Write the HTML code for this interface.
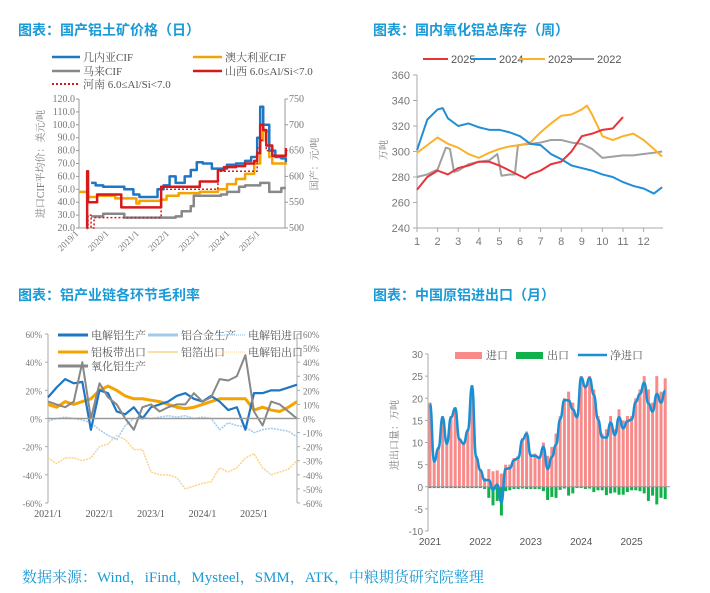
<!DOCTYPE html>
<html><head><meta charset="utf-8">
<style>
body{margin:0;width:710px;height:593px;background:#fff;overflow:hidden;font-family:"Liberation Serif","Noto Serif CJK SC",serif;}
.t{position:absolute;color:#1a9ad6;font-weight:bold;font-size:14px;font-family:"Liberation Sans","Noto Sans CJK SC",sans-serif;}
svg{position:absolute;left:0;top:0}
.sans{font-family:"Liberation Sans","Noto Sans CJK SC",sans-serif;}
</style></head><body>
<div class="t" style="left:18px;top:20px">图表：国产铝土矿价格（日）</div>
<div class="t" style="left:373px;top:20px">图表：国内氧化铝总库存（周）</div>
<div class="t" style="left:18px;top:285px">图表：铝产业链各环节毛利率</div>
<div class="t" style="left:373px;top:285px">图表：中国原铝进出口（月）</div>
<div class="t" style="left:22px;top:566px;font-weight:normal;font-size:15px;font-family:'Liberation Serif','Noto Serif CJK SC',serif">数据来源：Wind，iFind，Mysteel，SMM，ATK，中粮期货研究院整理</div>
<svg id="s" width="710" height="593" xmlns="http://www.w3.org/2000/svg"></svg>
<script>
// ---------- Panel 1 data ----------
const p1GuineaT=[2019.4,2019.55,2019.8,2020.2,2020.5,2020.8,2021.0,2021.4,2021.6,2021.8,2022.0,2022.2,2022.5,2022.7,2022.9,2023.1,2023.4,2023.6,2023.9,2024.2,2024.5,2024.7,2024.9,2025.0,2025.1,2025.3,2025.5,2025.7,2025.85];
const p1GuineaV=[55,53,52,52,50,46,44,44,50,53,60,55,60,65,71,70,66,66,69,70,72,75,90,114,100,80,75,74,71];
const p1AusT=[2019.0,2019.3,2019.6,2020.2,2020.9,2021.0,2021.7,2021.9,2022.3,2023.0,2023.6,2023.9,2024.2,2024.5,2024.8,2025.0,2025.1,2025.3,2025.4,2025.85];
const p1AusV=[48,44,45,43,39,41,42,45,47,48,50,54,58,62,70,88,95,75,70,69];
const p1MalT=[2019.4,2019.8,2020.5,2021.0,2021.6,2022.2,2022.4,2022.7,2022.8,2023.7,2023.9,2024.3,2024.5,2025.0,2025.3,2025.7,2025.85];
const p1MalV=[29,31,28,28,28,29,33,37,45,46,48,52,53,55,48,51,51];
const p1SxT=[2019.25,2019.27,2019.3,2019.45,2019.6,2020.3,2020.4,2021.7,2021.72,2022.9,2023.0,2023.5,2023.6,2023.8,2024.2,2024.5,2024.8,2024.9,2025.0,2025.1,2025.2,2025.4,2025.7,2025.85];
const p1SxV=[500,610,550,550,565,565,540,540,580,580,590,590,612,618,620,625,630,645,700,690,660,640,640,655];
const p1HnT=[2019.25,2019.3,2019.4,2019.5,2019.6,2021.7,2021.72,2023.5,2023.6,2024.9,2025.0,2025.2,2025.4,2025.85];
const p1HnV=[500,525,500,520,520,520,575,575,610,655,670,650,640,650];
const p1LeftTicks=[120,110,100,90,80,70,60,50,40,30,20];
const p1RightTicks=[750,700,650,600,550,500];
const p1Years=["2019/1","2020/1","2021/1","2022/1","2023/1","2024/1","2025/1"];
// ---------- Panel 2 data ----------
const p2X25=[1,1.5,2,2.5,3,3.5,4,4.5,5,5.5,6,6.25,6.5,7,7.5,8,8.5,9,9.5,10,10.5,11];
const p2V25=[270,280,285,282,287,289,292,292,289,285,281,279,282,285,290,292,300,312,314,317,318,327];
const p2X24=[1,1.5,2,2.25,2.5,3,3.5,4,4.5,5,5.5,6,6.5,7,7.5,8,8.5,9,9.5,10,10.5,11,11.5,12,12.5,12.9];
const p2V24=[301,325,333,334,326,320,322,319,317,317,315,312,306,305,298,294,289,287,285,282,280,276,273,271,267,272];
const p2X23=[1,1.5,2,2.5,3,3.5,4,4.5,5,5.5,6,6.5,7,7.5,8,8.5,9,9.25,9.5,10,10.5,11,11.5,12,12.5,12.9];
const p2V23=[299,305,311,306,303,298,295,299,302,304,305,307,315,322,328,329,333,336,329,312,309,312,314,309,302,296];
const p2X22=[1,1.5,2,2.4,2.6,2.8,3,3.5,4,4.5,4.9,5.1,5.5,5.75,5.9,6.5,7,7.5,8,8.5,9,9.5,10,10.5,11,11.5,12,12.5,12.9];
const p2V22=[280,282,286,303,302,284,285,290,292,293,298,281,282,282,305,306,307,309,309,307,306,302,295,296,297,297,298,299,300];
const p2Ticks=[360,340,320,300,280,260,240];
// ---------- Panel 3 data (month index from 2021/1, step 2) ----------
const p3M=[0,2,4,6,8,10,12,14,16,18,20,22,24,26,28,30,32,34,36,38,40,42,44,46,48,50,52,54,56,58];
const p3Elec=[15,22,28,25,26,-8,20,18,5,3,8,0,8,10,12,16,18,14,12,16,12,6,8,-8,18,18,20,20,22,24];
const p3Sheet=[10,8,12,10,12,14,20,23,20,16,14,14,13,12,10,8,7,8,10,12,14,14,14,14,6,8,6,5,8,12];
const p3Alumina=[12,10,8,12,40,0,25,15,10,0,-8,8,10,5,8,10,10,18,12,15,28,27,30,45,5,-5,12,10,5,0];
const p3Alloy=[-2,0,1,0,-1,-3,-8,-12,-15,-5,0,1,0,1,2,1,2,0,1,0,-8,-3,-5,-6,-10,-8,-7,-8,-9,-13];
const p3Foil=[-28,-32,-28,-28,-30,-28,-20,-18,-12,-15,-22,-22,-38,-40,-40,-42,-50,-48,-46,-45,-35,-38,-35,-28,-25,-35,-40,-38,-36,-30];
const p3Ticks=[60,40,20,0,-20,-40,-60];
const p3RTicks=[60,50,40,30,20,10,0,-10,-20,-30,-40,-50,-60];
const p3Years=["2021/1","2022/1","2023/1","2024/1","2025/1"];
// ---------- Panel 4 data (monthly from 2021/1) ----------
const p4Import=[19,6,9,16,10,16,18,11,10,13,23,7, 4,2,4,3.5,3.7,3,5,5,6.5,7,11,12.5, 7.5,7.5,7,10,7,9,12,16,20,21.5,19,16, 25,23,25,22,16,12,13,16,13,17.5,15,16, 16,20,22,25,22,19,25,21.5,24.5];
const p4Export=[-0.3,-0.3,-0.3,-0.3,-0.3,-0.3,-0.3,-0.3,-0.3,-0.3,-0.3,-0.3, -0.3,-0.5,-2.5,-4.2,-3.2,-6.5,-1,-0.8,-0.5,-0.5,-0.4,-0.5, -0.5,-0.5,-0.5,-1,-3,-2.3,-2.5,-0.7,-0.4,-2,-1.5,-0.3, -0.3,-0.5,-0.4,-1.2,-0.8,-0.8,-1.9,-1.5,-1.3,-1.8,-1.8,-1.2, -0.8,-0.8,-1,-1.5,-3.2,-2,-4,-2.5,-2.8];
const p4Ticks=[30,25,20,15,10,5,0,-5,-10];
const p4Years=["2021","2022","2023","2024","2025"];

const S=document.getElementById('s');const NS="http://www.w3.org/2000/svg";
function mk(tag,at,txt){const e=document.createElementNS(NS,tag);for(const k in at)e.setAttribute(k,at[k]);if(txt!==undefined)e.textContent=txt;S.appendChild(e);return e;}
const GR="#777";const FS="10px";
const SANS='"Liberation Sans","Noto Sans CJK SC",sans-serif';
function txt(x,y,s,anchor,size,fill,rot,fam){const a={x:x,y:y,'font-size':size||FS,fill:fill||GR,'text-anchor':anchor||'start'};if(rot)a.transform=rot;if(fam)a['font-family']=fam;return mk('text',a,s);}
function path(pts,col,w,dash,step){let d="";pts.forEach((p,i)=>{if(i==0)d+="M"+p[0]+","+p[1];else if(step){d+="H"+p[0]+"V"+p[1];}else d+="L"+p[0]+","+p[1];});const a={d:d,fill:'none',stroke:col,'stroke-width':w,'stroke-linejoin':'round'};if(dash)a['stroke-dasharray']=dash;return mk('path',a);}
function legLine(x1,x2,y,col,w,dash,label,name,fam){const l=mk('line',{x1:x1,x2:x2,y1:y,y2:y,stroke:col,'stroke-width':w});if(dash)l.setAttribute('stroke-dasharray',dash);


const t=txt(x2+3,y+4,label,'start','11px','#555',null,fam);

}

// ===== Panel 1 =====
{const x=t=>79+(t-2019)*30.2, yL=v=>228-(v-20)*1.29, yR=v=>228-(v-500)*0.516;
legLine(52,80,57,"#1f77c4",2.5,null,"几内亚CIF","legend-guinea");
legLine(193,222,57,"#f5a300",2.5,null,"澳大利亚CIF","legend-australia");
legLine(52,80,71,"#888",2.5,null,"马来CIF","legend-malaysia");
legLine(193,222,71,"#d7191c",2.5,null,"山西 6.0≤Al/Si<7.0","legend-shanxi");
legLine(52,80,84,"#d7191c",2,"2,2","河南 6.0≤Al/Si<7.0","legend-henan");
mk('line',{x1:79,y1:99,x2:79,y2:228,stroke:'#999'});mk('line',{x1:285,y1:99,x2:285,y2:228,stroke:'#999'});mk('line',{x1:79,y1:228,x2:285,y2:228,stroke:'#999'});
p1LeftTicks.forEach(v=>{txt(75,yL(v)+3,v.toFixed(1),'end','10px');mk('line',{x1:76,x2:79,y1:yL(v),y2:yL(v),stroke:'#999'});});
p1RightTicks.forEach(v=>{txt(289,yR(v)+3,String(v),'start','10px');mk('line',{x1:285,x2:288,y1:yR(v),y2:yR(v),stroke:'#999'});});
p1Years.forEach((s,i)=>{const xx=x(2019+i);txt(xx,234,s,'end','9px',GR,`rotate(-45 ${xx} 234)`);});
txt(44,164,"进口CIF平均价：美元/吨",'middle','10px',GR,'rotate(-90 44 164)');
txt(318,164,"国产：元/吨",'middle','10px',GR,'rotate(-90 318 164)');
const z=(T,V,f)=>T.map((t,i)=>[x(t),f(V[i])]);
path(z(p1MalT,p1MalV,yL),"#888",2.5,null,true);
path(z(p1AusT,p1AusV,yL),"#f5a300",2.5,null,true);
path(z(p1GuineaT,p1GuineaV,yL),"#1f77c4",2.5,null,true);
path(z(p1SxT,p1SxV,yR),"#d7191c",2.5,null,true);
path(z(p1HnT,p1HnV,yR),"#d7191c",1.5,"2,2",true);}

// ===== Panel 2 =====
{const x=m=>417+(m-1)*20.6, y=v=>228-(v-240)*1.275;
legLine(423,448,59,"#e8333a",2,null,"2025","legend-2025",SANS);
legLine(471,496,59,"#1f8fd6",2,null,"2024","legend-2024",SANS);
legLine(519,545,59,"#fbb22a",2,null,"2023","legend-2023",SANS);
legLine(568,594,59,"#999",2,null,"2022","legend-2022",SANS);
mk('line',{x1:417,y1:75,x2:417,y2:228,stroke:'#aaa'});mk('line',{x1:417,y1:228,x2:663,y2:228,stroke:'#aaa'});
p2Ticks.forEach(v=>{txt(410,y(v)+4,String(v),'end','11px',GR,null,SANS);mk('line',{x1:413,x2:417,y1:y(v),y2:y(v),stroke:'#aaa'});});
for(let m=1;m<=12;m++){txt(x(m),245,String(m),'middle','11px',GR,null,SANS);mk('line',{x1:x(m),x2:x(m),y1:228,y2:232,stroke:'#aaa'});}
txt(387,150,"万吨",'middle','10px',GR,'rotate(-90 387 150)');
const sm=(X,V)=>X.map((m,i)=>[x(m),y(V[i])]);
path(sm(p2X22,p2V22),"#a0a0a0",2);
path(sm(p2X23,p2V23),"#fbb22a",2);
path(sm(p2X24,p2V24),"#1f8fd6",2);
path(sm(p2X25,p2V25),"#e8333a",2);}

// ===== Panel 3 =====
{const x=m=>48+m*51.5/12, y=v=>418.5-v*1.408;
mk('line',{x1:48,y1:334,x2:48,y2:503,stroke:'#aaa'});mk('line',{x1:297,y1:334,x2:297,y2:503,stroke:'#aaa'});
p3Ticks.forEach(v=>{txt(42,y(v)+4,v+"%",'end','9px');mk('line',{x1:45,x2:48,y1:y(v),y2:y(v),stroke:'#aaa'});});
p3RTicks.forEach(v=>{txt(303,y(v)+4,v+"%",'start','9px');mk('line',{x1:297,x2:300,y1:y(v),y2:y(v),stroke:'#aaa'});});
p3Years.forEach((s,i)=>txt(x(i*12),517,s,'middle','10px','#555'));
const sm=V=>p3M.map((m,i)=>[x(m),y(V[i])]);
path(sm(p3Foil),"#fcd38a",1.5,"2,1");
path(sm(p3Alloy),"#9fcbee",1.5,"2,1");
path(sm(p3Sheet),"#f5a300",3);
path(sm(p3Elec),"#1f77c4",2.2);
path(sm(p3Alumina),"#888",2);
mk('line',{x1:48,x2:297,y1:y(0),y2:y(0),stroke:'#999','stroke-width':1.5});
legLine(58,88,335,"#1f77c4",3,null,"电解铝生产","legend-electrolytic-production");
legLine(148,178,335,"#9fcbee",3,null,"铝合金生产","legend-alloy-production");
legLine(218,245,335,"#bfdcf2",2,"1,1","电解铝进口","legend-electrolytic-import");
legLine(58,88,352,"#f5a300",3,null,"铝板带出口","legend-sheet-export");
legLine(148,178,352,"#fcd38a",1.5,null,"铝箔出口","legend-foil-export");
legLine(218,245,352,"#fcd38a",1,"1,1","电解铝出口","legend-electrolytic-export");
legLine(58,88,366,"#888",3,null,"氧化铝生产","legend-alumina-production");}

// ===== Panel 4 =====
{const bw=4.2, x=i=>430+i*bw, y=v=>354+(30-v)*4.425;
mk('line',{x1:428,y1:354,x2:428,y2:531,stroke:'#aaa'});
p4Ticks.forEach(v=>{txt(423,y(v)+4,String(v),'end','10px',GR,null,SANS);mk('line',{x1:425,x2:428,y1:y(v),y2:y(v),stroke:'#aaa'});});
p4Years.forEach((s,i)=>txt(x(i*12),545,s,'middle','10px','#555',null,SANS));
txt(398,435,"进出口量：万吨",'middle','10px',GR,'rotate(-90 398 435)');
p4Import.forEach((v,i)=>{const r=mk('rect',{x:x(i)-1.5,y:y(v),width:3,height:y(0)-y(v),fill:'#f88a8a'});

});
p4Export.forEach((v,i)=>{const r=mk('rect',{x:x(i)-1.5,y:y(0),width:3,height:y(v)-y(0),fill:'#10b04a'});

});
mk('line',{x1:428,x2:670,y1:y(0),y2:y(0),stroke:'#999'});
const net=p4Import.map((v,i)=>[x(i),y(v+p4Export[i])]);
let d="M"+net[0][0]+","+net[0][1];for(let i=1;i<net.length;i++){const p0=net[i-1],p1=net[i];const cx=(p0[0]+p1[0])/2;d+=`C${cx},${p0[1]} ${cx},${p1[1]} ${p1[0]},${p1[1]}`;}
const nl=mk('path',{d:d,fill:'none',stroke:'#1a90d4','stroke-width':2.5});


const a=mk('rect',{x:455,y:352,width:27,height:7,fill:'#f88a8a'});
txt(486,359,"进口",'start','11px','#555');
const b=mk('rect',{x:516,y:352,width:27,height:7,fill:'#10b04a'});
txt(547,359,"出口",'start','11px','#555');
legLine(578,607,355,"#1a90d4",2.5,null,"净进口","legend-net-import");}
</script>
</body></html>
